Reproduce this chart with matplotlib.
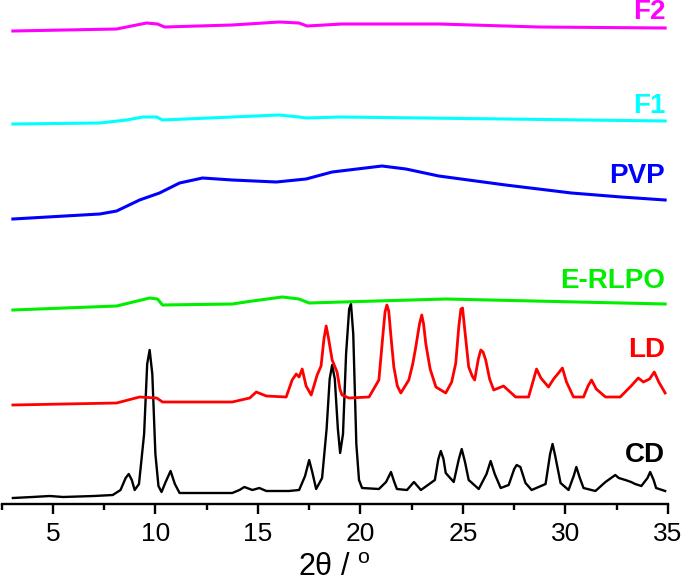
import numpy as np
import matplotlib
matplotlib.use("Agg")
import matplotlib.pyplot as plt
from matplotlib.ticker import MultipleLocator

plt.rcParams['font.family'] = ['Liberation Sans', 'DejaVu Sans']

# stacked XRD patterns, 2theta (deg) vs intensity (a.u., offset included)
cd_x = [3.05, 4.0, 4.85, 5.5, 7.0, 7.92, 8.3, 8.55, 8.7, 8.85, 8.99, 9.2, 9.45, 9.6, 9.72, 9.85,
        10.0, 10.15, 10.3, 10.5, 10.74, 10.95, 11.18, 12.5, 13.75, 14.1, 14.34, 14.73, 15.07, 15.41,
        16.5, 17.01, 17.3, 17.5, 17.65, 17.84, 18.13, 18.35, 18.5, 18.62, 18.75, 18.9, 19.01, 19.15,
        19.3, 19.45, 19.54, 19.65, 19.8, 19.93, 20.08, 20.9, 21.25, 21.49, 21.65, 21.78, 22.27, 22.61,
        22.95, 23.63, 23.8, 23.92, 24.05, 24.16, 24.55, 24.8, 24.94, 25.1, 25.28, 25.77, 26.15, 26.35,
        26.55, 26.84, 27.23, 27.5, 27.62, 27.8, 28.05, 28.35, 29.03, 29.25, 29.37, 29.5, 29.76, 30.15,
        30.4, 30.53, 30.7, 30.88, 31.46, 31.95, 32.43, 32.6, 32.92, 33.2, 33.4, 33.7, 34.0, 34.13,
        34.3, 34.42, 34.86]
cd_y = [6, 7, 8, 7, 8, 9, 14, 26, 30, 24, 14, 20, 70, 140, 154, 130,
        50, 18, 12, 22, 33, 20, 11, 11, 11, 14, 17, 14, 16, 13,
        13, 14, 28, 44, 32, 15, 26, 75, 125, 139, 125, 75, 51, 70,
        150, 195, 200, 170, 60, 24, 16, 15, 22, 32, 22, 15, 14, 22,
        14, 24, 45, 53, 45, 31, 22, 45, 55, 42, 24, 15, 30, 43,
        30, 16, 19, 35, 39, 37, 21, 14, 20, 50, 60, 48, 21, 14,
        28, 37, 26, 16, 13, 22, 29, 26, 24, 22, 20, 18, 26, 32,
        24, 16, 13]

ld_x = [3.05, 8.11, 9.23, 10.06, 10.35, 13.75, 14.6, 14.92, 15.41, 16.38, 16.67, 16.87, 17.01, 17.16,
        17.35, 17.6, 17.89, 18.08, 18.22, 18.33, 18.45, 18.62, 18.86, 19.0, 19.1, 19.44, 20.42, 20.9,
        21.1, 21.2, 21.29, 21.38, 21.5, 21.63, 21.8, 21.97, 22.36, 22.55, 22.7, 22.88, 22.99, 23.08,
        23.19, 23.4, 23.68, 24.16, 24.45, 24.65, 24.8, 24.9, 24.98, 25.1, 25.28, 25.45, 25.57, 25.75,
        25.87, 25.98, 26.11, 26.3, 26.5, 26.98, 27.57, 28.2, 28.45, 28.59, 28.8, 29.17, 29.42, 29.7,
        29.85, 30.05, 30.39, 30.88, 31.1, 31.27, 31.5, 31.95, 32.67, 33.2, 33.55, 33.8, 34.1, 34.33,
        34.55, 34.86]
ld_y = [99, 101, 107, 106, 102, 102, 106, 112, 108, 107, 124, 130, 127, 135,
        118, 109, 129, 138, 165, 178, 165, 144, 132, 115, 109, 106, 107, 124,
        170, 192, 199, 193, 165, 137, 118, 111, 124, 140, 157, 180, 189, 180,
        160, 135, 117, 111, 122, 141, 178, 195, 196, 172, 137, 128, 124, 145,
        154, 152, 144, 125, 114, 118, 107, 107, 125, 135, 126, 117, 125, 132,
        136, 122, 107, 107, 118, 124, 115, 107, 107, 118, 126, 122, 125, 132,
        122, 111]

erlpo_x = [3.05, 8.11, 9.72, 10.1, 10.35, 13.75, 14.73, 16.19, 17.0, 17.5, 19.1, 24.16, 34.86]
erlpo_y = [194, 198, 206, 205, 199, 200, 203, 207, 205, 201, 202, 205, 200]

pvp_x = [3.05, 7.29, 8.11, 9.23, 10.2, 11.18, 12.3, 13.75, 15.9, 17.35, 18.62, 21.05, 22.22,
         23.82, 27.08, 30.29, 32.72, 34.86]
pvp_y = [285, 290, 293, 304, 311, 321, 326, 324, 322, 325, 332, 338, 335,
         328, 319, 311, 307, 304]

f1_x = [3.05, 7.29, 8.6, 9.38, 10.06, 10.35, 13.75, 16.04, 17.0, 17.35, 19.0, 27.08, 34.86]
f1_y = [380, 381, 384, 387, 387, 384, 387, 389, 387, 386, 387, 385, 383]

f2_x = [3.05, 8.11, 9.57, 10.1, 10.45, 13.75, 16.04, 17.0, 17.4, 19.1, 23.82, 28.69, 34.86]
f2_y = [473, 475, 481, 480, 477, 479, 482, 481, 478, 480, 480, 477, 476]

names = ['CD', 'LD', 'E-RLPO', 'PVP', 'F1', 'F2']
colors = ['#000000', '#ff0000', '#00ee00', '#0000ff', '#00ffff', '#ff00ff']
widths = [1.7, 2.0, 2.2, 2.2, 2.2, 2.2]
label_y = [49, 154, 223, 328, 398, 492]

fig = plt.figure(figsize=(6.85, 5.88), dpi=100)
ax = fig.add_axes([1.6 / 685, 84 / 588, (668 - 1.6) / 685, 504 / 588])

series = [(cd_x, cd_y), (ld_x, ld_y), (erlpo_x, erlpo_y), (pvp_x, pvp_y), (f1_x, f1_y), (f2_x, f2_y)]
for (x, y), c, lw, n, ly in zip(series, colors, widths, names, label_y):
    ax.plot(x, y, color=c, lw=lw, solid_joinstyle='round')
    ax.text(34.86, ly, n, color=c, fontsize=20, fontweight='bold', ha='right', va='center')

ax.set_xlim(2.5, 35)
ax.set_ylim(0, 504)
for s in ['left', 'right', 'top']:
    ax.spines[s].set_visible(False)
ax.spines['bottom'].set_linewidth(1.7)
ax.set_yticks([])
ax.xaxis.set_major_locator(MultipleLocator(5))
ax.xaxis.set_minor_locator(MultipleLocator(2.5))
ax.tick_params(axis='x', which='major', direction='out', length=7, width=1.7, labelsize=19, pad=6)
ax.tick_params(axis='x', which='minor', direction='out', length=4, width=1.7)
ax.set_xlabel(r'2θ / $\mathregular{^o}$', fontsize=22, labelpad=5)

fig.savefig('out.png', dpi=100)
